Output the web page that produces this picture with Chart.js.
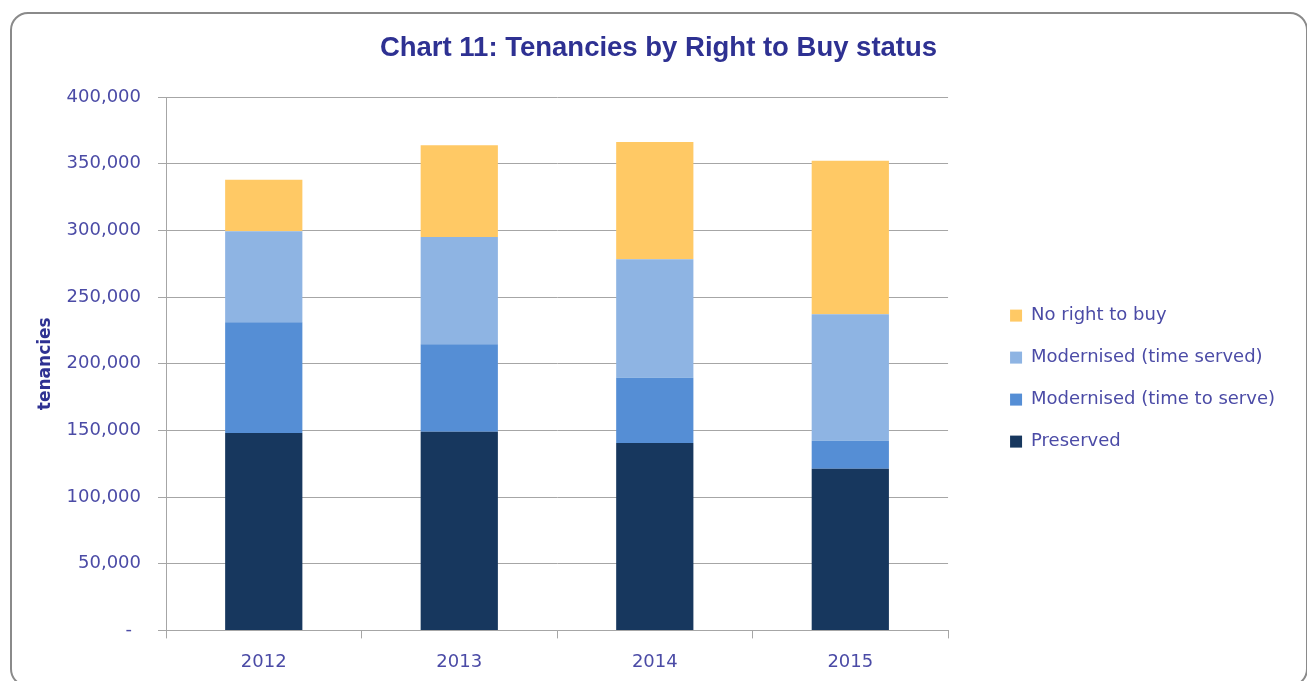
<!DOCTYPE html>
<html>
<head>
<meta charset="utf-8">
<script src="https://cdn.jsdelivr.net/npm/chart.js@4"></script>
<style>
  html, body { margin: 0; padding: 0; background: #fff; overflow: hidden; }
  #wrap { position: relative; width: 1307px; height: 681px; overflow: hidden; }
  #frame { position: absolute; left: 10px; top: 12px; width: 1298px; height: 675px;
           border: 2px solid #8a8a8a; border-radius: 18px; box-sizing: border-box; }
  canvas { position: absolute; left: 0; top: 0; }
</style>
</head>
<body>
<div id="wrap">
  <div id="frame"></div>
  <canvas id="c" width="1307" height="681"></canvas>
</div>
<script>
const categories = ["2012", "2013", "2014", "2015"];
const preserved = [148000, 149000, 140500, 121250];
const modernisedTimeToServe = [83000, 65500, 49000, 21000];
const modernisedTimeServed = [68250, 80500, 88750, 94750];
const noRightToBuy = [38750, 68750, 88000, 115250];
const seriesNames = ["Preserved", "Modernised (time to serve)", "Modernised (time served)", "No right to buy"];
const seriesColors = ["#17375E", "#558ED5", "#8EB4E3", "#FFC965"];
const yTicks = [0, 50000, 100000, 150000, 200000, 250000, 300000, 350000, 400000];
const chartTitle = "Chart 11: Tenancies by Right to Buy status";
const yAxisTitle = "tenancies";

const labelColor = "#4B4BA6";
const titleColor = "#2E3192";
const gridColor = "#a6a6a6";
const baseFont = "'DejaVu Sans', sans-serif";

const seriesData = [preserved, modernisedTimeToServe, modernisedTimeServed, noRightToBuy];
const datasets = seriesData.map((d, i) => ({
  label: seriesNames[i],
  data: d,
  backgroundColor: seriesColors[i],
  borderWidth: 0,
  categoryPercentage: 1.0,
  barPercentage: 0.395
}));

new Chart(document.getElementById('c'), {
  type: 'bar',
  data: { labels: categories, datasets: datasets },
  options: {
    responsive: false,
    animation: false,
    devicePixelRatio: 1,
    layout: { padding: { top: 32, left: 32, right: 22, bottom: 0 } },
    plugins: {
      title: {
        display: true,
        text: chartTitle,
        color: titleColor,
        font: { family: "'Liberation Sans', Arial, sans-serif", size: 27.5, weight: 'bold' },
        padding: { top: 0, bottom: 32 }
      },
      legend: {
        position: 'right',
        reverse: true,
        align: 'center',
        maxWidth: 420,
        title: { display: true, text: '', font: { size: 1 }, padding: { top: 21.5, bottom: 21.5 } },
        labels: {
          color: labelColor,
          font: { family: baseFont, size: 18 },
          boxWidth: 12,
          boxHeight: 12,
          padding: 24
        }
      },
      tooltip: { enabled: false }
    },
    scales: {
      x: {
        stacked: true,
        grid: { display: true, drawOnChartArea: false, offset: true, color: gridColor, tickLength: 8, lineWidth: 1 },
        border: { display: true, color: gridColor },
        ticks: { color: labelColor, font: { family: baseFont, size: 18 }, padding: 13 },
        afterFit: (s) => { s.height -= 5; }
      },
      y: {
        stacked: true,
        min: 0,
        max: 400000,
        afterBuildTicks: (axis) => { axis.ticks = yTicks.map(v => ({ value: v })); },
        afterFit: (s) => { s.width = 134; },
        grid: { color: gridColor, tickLength: 8, lineWidth: 1 },
        border: { display: true, color: gridColor },
        title: {
          display: true,
          text: yAxisTitle,
          color: titleColor,
          font: { family: baseFont, size: 17, weight: 'bold' },
          padding: { top: 3.5, bottom: 0 }
        },
        ticks: {
          color: labelColor,
          font: { family: baseFont, size: 18 },
          padding: 17,
          callback: (v) => v === 0 ? '-\u2002' : v.toLocaleString('en-GB')
        }
      },
      gap: {
        type: 'linear',
        position: 'right',
        display: true,
        grid: { display: false },
        border: { display: false },
        ticks: { display: false },
        afterFit: (s) => { s.width = 38; }
      }
    }
  }
});
</script>
</body>
</html>
